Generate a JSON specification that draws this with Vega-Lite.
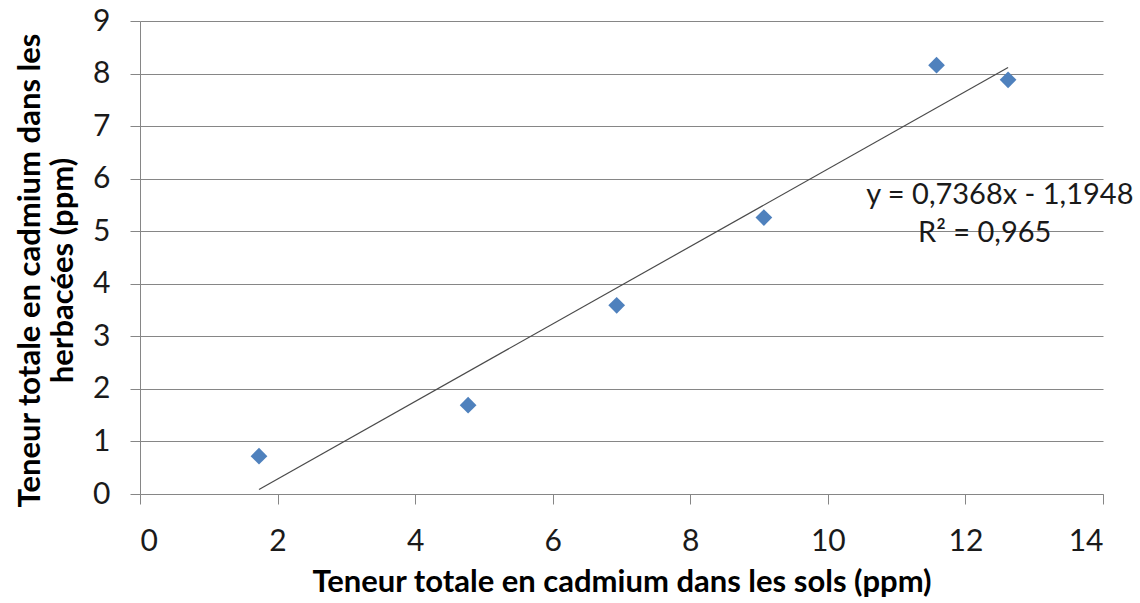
{
  "$schema": "https://vega.github.io/schema/vega-lite/v6.json",
  "width": 963,
  "height": 473,
  "autosize": {"type": "none"},
  "padding": {"left": 140, "top": 21, "right": 37, "bottom": 109},
  "background": "white",
  "config": {
    "view": {"stroke": null},
    "font": "Lato",
    "axis": {
      "labelFont": "Lato",
      "titleFont": "Lato",
      "labelFontSize": 30,
      "labelColor": "#1a1a1a",
      "titleFontSize": 31,
      "titleFontWeight": "bold",
      "titleColor": "#000000",
      "domainColor": "#868686",
      "tickColor": "#868686",
      "gridColor": "#868686",
      "tickSize": 10,
      "labelPadding": 12,
      "format": "d"
    }
  },
  "data": {
    "values": [
      {"sol": 1.73, "herb": 0.72},
      {"sol": 4.77, "herb": 1.69},
      {"sol": 6.93, "herb": 3.59},
      {"sol": 9.07, "herb": 5.26},
      {"sol": 11.58, "herb": 8.16},
      {"sol": 12.62, "herb": 7.88}
    ]
  },
  "layer": [
    {
      "transform": [{"regression": "herb", "on": "sol", "method": "linear"}],
      "mark": {"type": "line", "color": "#4a4a4a", "strokeWidth": 1.2},
      "encoding": {
        "x": {"field": "sol", "type": "quantitative"},
        "y": {"field": "herb", "type": "quantitative"}
      }
    },
    {
      "mark": {"type": "point", "shape": "diamond", "filled": true, "size": 280, "color": "#4F81BD", "opacity": 1},
      "encoding": {
        "x": {
          "field": "sol", "type": "quantitative",
          "scale": {"domain": [0, 14], "nice": false, "zero": true},
          "axis": {"values": [0, 2, 4, 6, 8, 10, 12, 14], "grid": false, "title": "Teneur totale en cadmium dans les sols (ppm)", "titlePadding": 11, "labelPadding": 22}
        },
        "y": {
          "field": "herb", "type": "quantitative",
          "scale": {"domain": [0, 9], "nice": false},
          "axis": {"values": [0, 1, 2, 3, 4, 5, 6, 7, 8, 9], "grid": true, "title": ["Teneur totale en cadmium dans les", "herbacées (ppm)"], "titlePadding": 13, "labelPadding": 20, "titleLineHeight": 33, "titleY": 249}
        }
      }
    },
    {
      "data": {
        "values": [
          {"x": 12.5, "y": 5.68, "label": "y = 0,7368x - 1,1948"},
          {"x": 12.28, "y": 4.97, "label": "R² = 0,965"}
        ]
      },
      "mark": {"type": "text", "fontSize": 29, "font": "Lato", "color": "#1a1a1a", "align": "center", "baseline": "middle"},
      "encoding": {
        "x": {"field": "x", "type": "quantitative"},
        "y": {"field": "y", "type": "quantitative"},
        "text": {"field": "label"}
      }
    }
  ]
}
